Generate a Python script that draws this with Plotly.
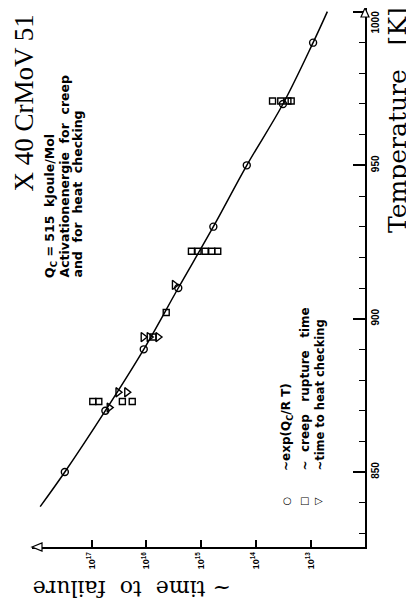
import plotly.graph_objects as go

# ---- data ----
# fitted curve ~exp(Qc/RT): temperature [K] and log10(time)
line_T = [838.7, 850, 870, 890, 910, 930, 950, 970, 990, 1000.1]
line_logt = [17.94, 17.49, 16.75, 16.05, 15.42, 14.78, 14.17, 13.51, 12.96, 12.70]

# circles ~exp(Qc/RT)
circ_T = [850, 870, 890, 910, 930, 950, 970, 990]
circ_logt = [17.49, 16.75, 16.05, 15.42, 14.78, 14.17, 13.51, 12.96]

# squares ~creep rupture time
sq_T = [971, 971, 971, 971, 922, 922, 922, 922, 922, 902, 894, 873, 873, 873, 873]
sq_logt = [13.70, 13.55, 13.42, 13.36, 15.18, 15.06, 14.93, 14.81, 14.70,
           15.64, 15.88, 16.98, 16.87, 16.44, 16.26]

# triangles ~time to heat checking
tri_T = [911, 894, 894, 894, 876, 876, 871]
tri_logt = [15.49, 16.06, 15.95, 15.79, 16.52, 16.36, 16.68]

time_tick_exp = [13, 14, 15, 16, 17]
temp_ticks = [850, 900, 950, 1000]
temp_ticklabels = ["850", "900", "950", ""]   # top label (1000) placed as annotation
top_label = "1000"

# page has an 8px body margin: figure origin sits at page (8, 8)
OFF = 8
W, H = 414 - OFF, 609 - OFF
ML, MR, MT, MB = 24, 49, 0, 62
PW, PH = W - ML - MR, H - MT - MB


def px(x):  # page pixel x -> paper fraction
    return (x - OFF - ML) / PW


def py(y):  # page pixel y -> paper fraction
    return (H - MB - (y - OFF)) / PH


fig = go.Figure()

fig.add_trace(go.Scatter(
    x=[10 ** v for v in line_logt], y=line_T, mode="lines",
    line=dict(color="black", width=1.5, shape="spline"), hoverinfo="skip"))

fig.add_trace(go.Scatter(
    x=[10 ** v for v in circ_logt], y=circ_T, mode="markers",
    marker=dict(symbol="circle-open", size=7, color="black", line=dict(width=1.4))))

fig.add_trace(go.Scatter(
    x=[10 ** v for v in sq_logt], y=sq_T, mode="markers",
    marker=dict(symbol="square-open", size=6, color="black", line=dict(width=1.4))))

fig.add_trace(go.Scatter(
    x=[10 ** v for v in tri_logt], y=tri_T, mode="markers",
    marker=dict(symbol="triangle-right-open", size=8, color="black", line=dict(width=1.4))))

fig.update_layout(
    width=W, height=H,
    margin=dict(l=ML, r=MR, t=MT, b=MB, autoexpand=False),
    paper_bgcolor="white", plot_bgcolor="white",
    showlegend=False,
    xaxis=dict(
        type="log", range=[18.089, 12.013], autorange=False, automargin=False,
        showline=True, linecolor="black", linewidth=1.5, mirror=False,
        ticks="inside", ticklen=7, tickwidth=1.5, tickcolor="black",
        tickvals=[10 ** e for e in time_tick_exp],
        ticktext=["10<sup>%d</sup>" % e for e in time_tick_exp],
        tickangle=-90,
        tickfont=dict(family="Liberation Sans", size=9, color="black", weight="bold"),
        showgrid=False, zeroline=False,
    ),
    yaxis=dict(
        side="right", range=[825.55, 1001.3], autorange=False, automargin=False,
        showline=True, linecolor="black", linewidth=1.5, mirror=False,
        tickvals=temp_ticks, ticktext=temp_ticklabels,
        ticks="inside", ticklen=12, tickwidth=1.5, tickcolor="black",
        minor=dict(dtick=10, tick0=850, ticks="inside", ticklen=6, tickwidth=1.2,
                   tickcolor="black", showgrid=False),
        tickangle=-90, ticklabelstandoff=0,
        tickfont=dict(family="Liberation Sans", size=10, color="black", weight="bold"),
        showgrid=False, zeroline=False,
    ),
)

annos = []
# title
annos.append(dict(text="X 40 CrMoV 51", x=px(23.5), y=py(103), textangle=-90,
                  xanchor="center", yanchor="middle",
                  font=dict(family="Liberation Serif", size=27, color="black")))
# Qc text block (three lines)
qlines = ["Q<sub>C</sub> = 515  kJoule/Mol",
          "Activationenergie  for  creep",
          "and  for  heat  checking"]
for xc, t in zip([50, 64, 77], qlines):
    annos.append(dict(text=t, x=px(xc), y=py(280), yanchor="bottom", xanchor="center",
                      textangle=-90,
                      font=dict(family="DejaVu Sans", size=12.5, color="black", weight="bold")))
# legend texts
legtexts = ["~exp(Q<sub>C</sub>/R T)", "~  creep   rupture   time", "~time to heat checking"]
legsizes = [12, 12, 11.5]
for xc, t, fs in zip([287, 304, 319], legtexts, legsizes):
    annos.append(dict(text=t, x=px(xc), y=py(473), yanchor="bottom", xanchor="center",
                      textangle=-90,
                      font=dict(family="DejaVu Sans", size=fs, color="black", weight="bold")))
# legend symbols
for xc, s in zip([287, 304, 319], ["○", "□", "▷"]):
    annos.append(dict(text=s, x=px(xc), y=py(500), textangle=0,
                      xanchor="center", yanchor="middle",
                      font=dict(family="DejaVu Sans", size=10, color="black")))
# top temperature label (kept inside the visible page)
annos.append(dict(text=top_label, x=px(375), y=py(9), textangle=-90,
                  xanchor="center", yanchor="top",
                  font=dict(family="Liberation Sans", size=10, color="black", weight="bold")))
# axis titles
annos.append(dict(text="Temperature   [K]", x=px(398), y=py(120), textangle=-90,
                  xanchor="center", yanchor="middle",
                  font=dict(family="DejaVu Serif", size=25, color="black")))
annos.append(dict(text="~ time  to  failure", x=px(132), y=py(589), textangle=180,
                  xanchor="center", yanchor="middle",
                  font=dict(family="DejaVu Serif", size=22, color="black")))

for a in annos:
    a.update(xref="paper", yref="paper", showarrow=False)
fig.update_layout(annotations=annos)

# open arrowheads at the axis ends
fig.add_shape(type="path", xref="paper", yref="paper",
              xsizemode="pixel", ysizemode="pixel", xanchor=0, yanchor=0,
              path="M 0,0 L 10,4 L 10,-4 Z",
              line=dict(color="black", width=1.2), fillcolor="white")
fig.add_shape(type="path", xref="paper", yref="paper",
              xsizemode="pixel", ysizemode="pixel", xanchor=1, yanchor=1,
              path="M 0,0 L -4,-9 L 4,-9 Z",
              line=dict(color="black", width=1.2), fillcolor="white")

fig.write_html("out.html")
